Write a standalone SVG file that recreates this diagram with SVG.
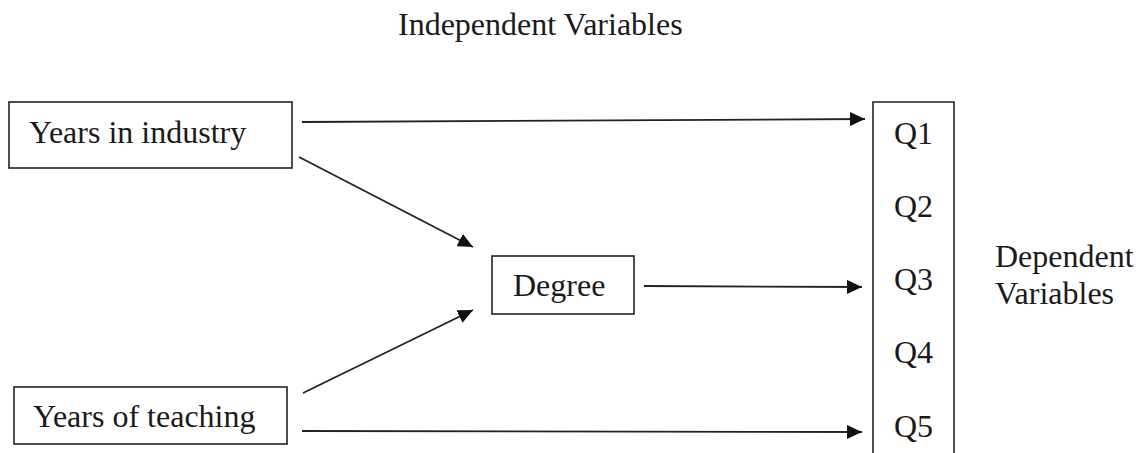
<svg xmlns="http://www.w3.org/2000/svg" width="1140" height="453" viewBox="0 0 1140 453">
  <style>
    .box { fill: #ffffff; stroke: #222222; stroke-width: 1.6; }
    .lbl { font-family: 'Liberation Serif', Tinos, 'Times New Roman', 'DejaVu Serif', serif; font-size: 32px; fill: #1a1a1a; }
    .conn { stroke: #222222; stroke-width: 1.8; fill: none; marker-end: url(#arrow); }
  </style>
  <defs>
    <marker id="arrow" markerUnits="userSpaceOnUse" markerWidth="16" markerHeight="14" refX="15" refY="7" orient="auto">
      <path d="M0,0 L15,7 L0,14 z" fill="#111111"/>
    </marker>
  </defs>
  <rect width="1140" height="453" fill="#ffffff"/>

  <g id="title">
    <text class="lbl" font-family="Liberation Serif, serif" x="398" y="35">Independent Variables</text>
  </g>

  <g id="node-industry">
    <rect class="box" x="9" y="102" width="283" height="66"/>
    <text class="lbl" font-family="Liberation Serif, serif" x="29" y="143">Years in industry</text>
  </g>

  <g id="node-teaching">
    <rect class="box" x="14" y="387" width="273" height="57"/>
    <text class="lbl" font-family="Liberation Serif, serif" x="33" y="427">Years of teaching</text>
  </g>

  <g id="node-degree">
    <rect class="box" x="492" y="256" width="142" height="58"/>
    <text class="lbl" font-family="Liberation Serif, serif" x="513" y="296">Degree</text>
  </g>

  <g id="node-q">
    <path class="box" d="M873,460 L873,102 L954,102 L954,460"/>
    <text class="lbl" font-family="Liberation Serif, serif" x="894" y="144">Q1</text>
    <text class="lbl" font-family="Liberation Serif, serif" x="894" y="217">Q2</text>
    <text class="lbl" font-family="Liberation Serif, serif" x="894" y="290">Q3</text>
    <text class="lbl" font-family="Liberation Serif, serif" x="894" y="363">Q4</text>
    <text class="lbl" font-family="Liberation Serif, serif" x="894" y="437">Q5</text>
  </g>

  <g id="dependent-label">
    <text class="lbl" font-family="Liberation Serif, serif" x="995" y="267">Dependent</text>
    <text class="lbl" font-family="Liberation Serif, serif" x="995" y="304">Variables</text>
  </g>

  <g id="connectors">
    <line class="conn" x1="302" y1="122" x2="865" y2="119"/>
    <line class="conn" x1="299" y1="157" x2="473" y2="247"/>
    <line class="conn" x1="303" y1="393" x2="473" y2="310"/>
    <line class="conn" x1="644" y1="286" x2="862" y2="287"/>
    <line class="conn" x1="302" y1="431" x2="862" y2="432"/>
  </g>
</svg>
